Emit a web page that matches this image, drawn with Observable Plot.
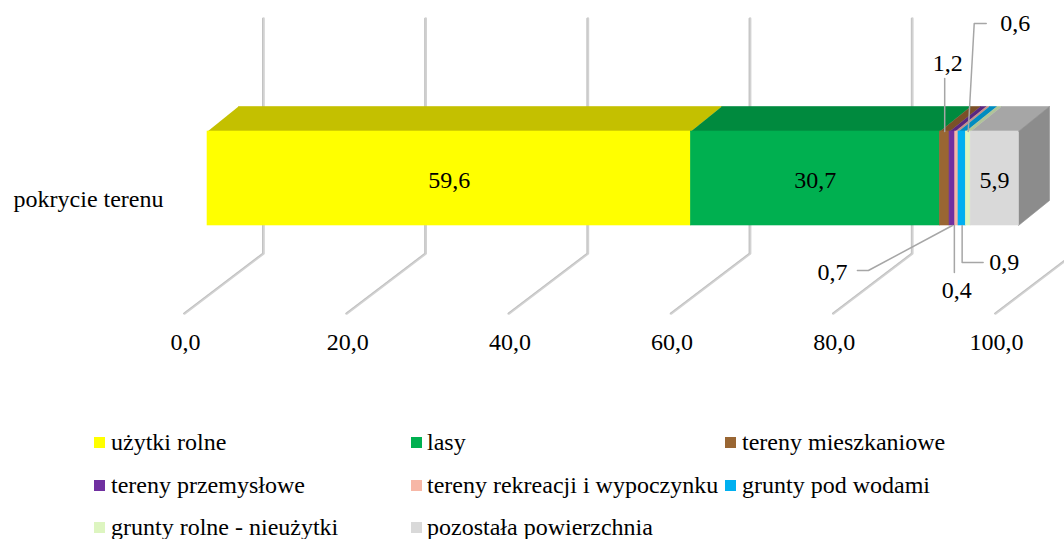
<!DOCTYPE html>
<html><head><meta charset="utf-8">
<script src="https://cdn.jsdelivr.net/npm/d3@7"></script>
<script src="https://cdn.jsdelivr.net/npm/@observablehq/plot@0.6"></script>
<style>
body{margin:0;background:#fff;}
#wrap{position:relative;width:1064px;height:539px;overflow:hidden;font-family:"Liberation Serif","Times New Roman",Tinos,"DejaVu Serif",serif;background:#fff;}
#wrap svg{position:absolute;left:0;top:0;}
#wrap svg text{font-family:"Liberation Serif","Times New Roman",Tinos,"DejaVu Serif",serif;}
.li{position:absolute;font-size:24px;line-height:24px;white-space:nowrap;color:#000;}
.sw{position:absolute;width:11px;height:11px;}
</style></head><body><div id="wrap"></div>
<script>
// ---- data ----
const categories = ["użytki rolne", "lasy", "tereny mieszkaniowe", "tereny przemysłowe",
  "tereny rekreacji i wypoczynku", "grunty pod wodami", "grunty rolne - nieużytki", "pozostała powierzchnia"];
const values = [59.6, 30.7, 1.2, 0.7, 0.4, 0.9, 0.6, 5.9];
const frontColors = ["#ffff00", "#00b050", "#996633", "#7030a0", "#f7b7a6", "#00b0f0", "#ddf5c0", "#d9d9d9"];
const topColors   = ["#c4c000", "#008a3e", "#7a5028", "#592680", "#c4918a", "#008cc0", "#b0c498", "#a6a6a6"];
const sideColor = "#8c8c8c";
const xTicks = [0, 20, 40, 60, 80, 100];
const rowLabel = "pokrycie terenu";

const fmt = v => v.toFixed(1).replace(".", ",");
const FONT = '"Liberation Serif", "Times New Roman", Tinos, "DejaVu Serif", serif';
const FS = 24;

// ---- layout (pixels) ----
const W = 1064, H = 400, X0 = 207, X1 = 1018;
const PX = 100 / (X1 - X0);                 // one pixel in x units
const BAR_TOP = 131, BAR_BOT = 225, DEPTH_X = 31 * PX, DEPTH_Y = 25;
const WALL_TOP = 18, WALL_BOT = 253, FLOOR_FRONT = 313, WALL_DX = 56 * PX, FLOOR_DX = -23 * PX;

// leader-line layout for the small segments (pixel offsets from segment centre, absolute y)
const leaderLayout = {
  "tereny mieszkaniowe":           {path: [[0, BAR_TOP], [0, 78]], label: [3, 63], anchor: "middle"},
  "tereny przemysłowe":            {path: [[0, BAR_BOT], [-84, 270], [-95, 270]], label: [-105, 272], anchor: "end"},
  "tereny rekreacji i wypoczynku": {path: [[-2.5, BAR_BOT], [-2.5, 272]], label: [0, 290], anchor: "middle"},
  "grunty pod wodami":             {path: [[0, BAR_BOT], [0, 262], [21, 262]], label: [27, 262], anchor: "start"},
  "grunty rolne - nieużytki":      {path: [[0, BAR_TOP], [6, 23], [18, 23]], label: [32, 23], anchor: "start"}
};

// ---- derived ----
let acc = 0;
const segs = values.map((v, i) => {
  const s = {key: categories[i], value: v, x1: acc, x2: acc + v, front: frontColors[i], top: topColors[i]};
  acc += v; s.cx = (s.x1 + s.x2) / 2; return s;
});

const topPts = segs.flatMap(s => [
  {key: s.key, c: s.top, x: s.x1, y: BAR_TOP},
  {key: s.key, c: s.top, x: s.x2, y: BAR_TOP},
  {key: s.key, c: s.top, x: s.x2 + DEPTH_X, y: BAR_TOP - DEPTH_Y},
  {key: s.key, c: s.top, x: s.x1 + DEPTH_X, y: BAR_TOP - DEPTH_Y}
]);
const last = segs[segs.length - 1];
const sidePts = [
  {x: last.x2, y: BAR_TOP}, {x: last.x2 + DEPTH_X, y: BAR_TOP - DEPTH_Y},
  {x: last.x2 + DEPTH_X, y: BAR_BOT - DEPTH_Y}, {x: last.x2, y: BAR_BOT}
];
const gridPts = xTicks.flatMap(t => [
  {t, x: t + WALL_DX, y: WALL_TOP}, {t, x: t + WALL_DX, y: WALL_BOT}, {t, x: t + FLOOR_DX, y: FLOOR_FRONT}
]);
const leaderSegs = segs.filter(s => leaderLayout[s.key]);
const leaderPts = leaderSegs.flatMap(s => leaderLayout[s.key].path.map(([dx, y]) => ({key: s.key, x: s.cx + dx * PX, y})));
const leaderLabels = leaderSegs.map(s => ({
  key: s.key, text: fmt(s.value), x: s.cx + leaderLayout[s.key].label[0] * PX,
  y: leaderLayout[s.key].label[1], anchor: leaderLayout[s.key].anchor
}));
const bigLabels = segs.filter(s => s.value >= 5);

const textOpts = {fontSize: FS, fill: "#000", fontFamily: FONT};

const chart = Plot.plot({
  width: W, height: H,
  marginLeft: X0, marginRight: W - X1, marginTop: 0, marginBottom: 70,
  style: {fontFamily: FONT, fontSize: FS + "px", background: "transparent", color: "#000", overflow: "visible"},
  x: {domain: [0, 100]},
  y: {domain: [0, H], range: [0, H], axis: null},
  color: {type: "identity"},
  marks: [
    // back wall + floor gridlines
    Plot.line(gridPts, {x: "x", y: "y", z: "t", stroke: "#d2d2d2", strokeWidth: 2.6}),
    Plot.line(gridPts, {x: "x", y: "y", z: "t", stroke: "#bdbdbd", strokeWidth: 0.8, dx: -1}),
    // top faces
    Plot.line(topPts, {x: "x", y: "y", z: "key", fill: "c", stroke: "c", strokeWidth: 0.6}),
    // right side face
    Plot.line(sidePts, {x: "x", y: "y", fill: sideColor, stroke: sideColor, strokeWidth: 0.6}),
    // front faces
    Plot.rect(segs, {x1: "x1", x2: "x2", y1: () => BAR_TOP, y2: () => BAR_BOT, fill: "front", stroke: "front", strokeWidth: 0.6}),
    // leader lines
    Plot.line(leaderPts, {x: "x", y: "y", z: "key", stroke: "#a6a6a6", strokeWidth: 1.5}),
    // labels
    Plot.text(bigLabels, {x: "cx", y: () => 179.5, text: d => fmt(d.value), ...textOpts}),
    Plot.text(leaderLabels.filter(d => d.anchor === "middle"), {x: "x", y: "y", text: "text", textAnchor: "middle", ...textOpts}),
    Plot.text(leaderLabels.filter(d => d.anchor === "start"), {x: "x", y: "y", text: "text", textAnchor: "start", ...textOpts}),
    Plot.text(leaderLabels.filter(d => d.anchor === "end"), {x: "x", y: "y", text: "text", textAnchor: "end", ...textOpts}),
    Plot.text([rowLabel], {x: () => 0, y: () => 198.5, dx: -44, text: d => d, textAnchor: "end", ...textOpts}),
    // x axis
    Plot.axisX(xTicks, {anchor: "bottom", tickSize: 0, tickPadding: 2, dx: -22, tickFormat: fmt, label: null, fontSize: FS, fill: "#000", fontFamily: FONT})
  ]
});

const wrap = document.getElementById("wrap");
wrap.appendChild(chart);

// ---- legend (HTML, below the SVG) ----
const legCols = [94, 411, 725];
const legTextDx = [17, 16, 17];
const legBaselines = [450, 493, 535];
categories.forEach((c, i) => {
  const col = i % 3, row = Math.floor(i / 3);
  const sw = document.createElement("div");
  sw.className = "sw";
  sw.style.left = legCols[col] + "px";
  sw.style.top = (legBaselines[row] - 13.5) + "px";
  sw.style.background = frontColors[i];
  wrap.appendChild(sw);
  const t = document.createElement("div");
  t.className = "li";
  t.style.left = (legCols[col] + legTextDx[col]) + "px";
  t.style.top = (legBaselines[row] - 20.1) + "px";
  t.textContent = c;
  wrap.appendChild(t);
});
</script></body></html>
